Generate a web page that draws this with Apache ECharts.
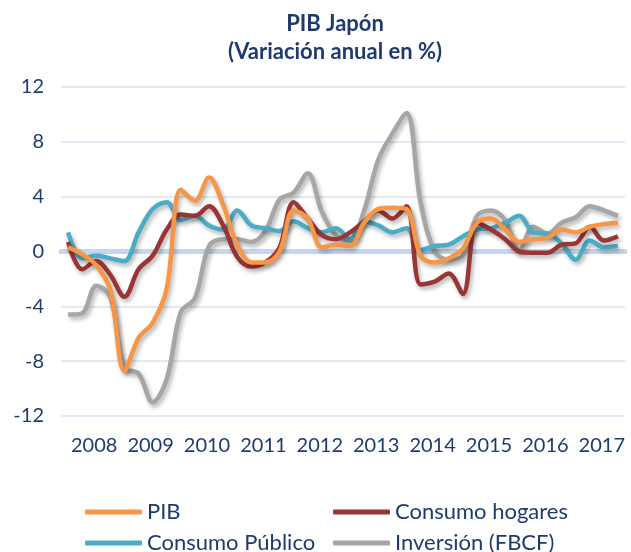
<!DOCTYPE html>
<html>
<head>
<meta charset="utf-8">
<title>PIB Japón</title>
<script src="https://cdn.jsdelivr.net/npm/echarts@6/dist/echarts.min.js"></script>
<style>
  html, body { margin: 0; padding: 0; background: #fff; }
  #chart { width: 631px; height: 552px; }
</style>
</head>
<body>
<div id="chart"></div>
<script>
// trimestres 2008T1 - 2017T4
var years = ["2008", "2009", "2010", "2011", "2012", "2013", "2014", "2015", "2016", "2017"];
var quarters = [];
years.forEach(function (y) {
  ["T1", "T2", "T3", "T4"].forEach(function (q) { quarters.push(y + q); });
});

var pib = [0.3, -0.2, -1.0, -2.8, -8.7, -6.3, -5.2, -2.7, 4.5, 3.7,
  5.4, 3.4, 0.5, -0.8, -0.8, 0.0, 3.0, 2.4, 0.3, 0.5,
  0.4, 2.1, 3.1, 3.2, 3.1, -0.3, -0.8, -0.5, 0.2, 2.1,
  2.4, 1.6, 0.7, 0.9, 1.0, 1.6, 1.4, 1.8, 2.0, 2.1];
var consumoHogares = [0.7, -1.3, -0.7, -1.7, -3.3, -1.3, -0.3, 1.6, 2.7, 2.6,
  3.3, 1.9, -0.4, -1.1, -0.8, 0.3, 3.6, 2.4, 1.2, 0.9,
  1.4, 2.2, 3.0, 2.4, 3.3, -2.4, -2.2, -1.6, -3.1, 2.1,
  1.6, 0.9, 0.0, -0.1, -0.1, 0.5, 0.6, 1.8, 0.8, 1.1];
var consumoPublico = [1.4, -0.5, -0.3, -0.5, -0.7, 1.4, 3.1, 3.6, 2.3, 2.6,
  1.9, 1.6, 3.0, 1.9, 1.7, 1.5, 2.2, 1.7, 1.4, 1.7,
  0.9, 2.2, 1.9, 1.4, 1.7, 0.1, 0.4, 0.5, 1.1, 1.6,
  1.7, 2.1, 2.6, 1.4, 1.3, 0.6, -0.6, 0.8, 0.3, 0.4];
var inversion = [-4.6, -4.5, -2.5, -3.3, -8.5, -8.9, -11.0, -9.3, -4.4, -3.4,
  0.4, 0.9, 0.9, 0.7, 1.5, 3.8, 4.3, 5.7, 2.9, 1.2,
  0.8, 3.0, 6.7, 8.6, 10.1, 3.6, 0.0, -0.6, -0.3, 2.6,
  3.0, 2.3, 0.1, 1.8, 1.3, 2.1, 2.5, 3.3, 3.0, 2.6];
var yTicks = [-12, -8, -4, 0, 4, 8, 12];

var navy = "#1f3b6e";
var fontName = "Lato";

function linea(name, data, color) {
  return {
    name: name,
    type: "line",
    data: data,
    smooth: 0.35,
    showSymbol: false,
    symbol: "none",
    lineStyle: {
      color: color,
      width: 4.5,
      shadowColor: "rgba(0,0,0,0.3)",
      shadowBlur: 4,
      shadowOffsetX: 2,
      shadowOffsetY: 3
    },
    itemStyle: { color: color }
  };
}

// una leyenda por elemento, para tener dos columnas alineadas
function leyenda(name, left, top) {
  return {
    left: left,
    top: top,
    padding: 0,
    itemWidth: 57,
    itemHeight: 5,
    icon: "roundRect",
    data: [name],
    textStyle: { color: navy, fontSize: 22, lineHeight: 20, fontFamily: fontName }
  };
}

var chart = echarts.init(document.getElementById("chart"));

var option = {
  animation: false,
  textStyle: { fontFamily: fontName },
  title: {
    text: "PIB Japón\n(Variación anual en %)",
    left: 330,
    textAlign: "center",
    top: 5,
    textStyle: {
      color: navy,
      fontSize: 22,
      fontWeight: "bold",
      fontFamily: fontName,
      lineHeight: 28
    }
  },
  legend: [
    leyenda("PIB", 85, 501),
    leyenda("Consumo Público", 85, 532),
    leyenda("Consumo hogares", 333, 501),
    leyenda("Inversión (FBCF)", 333, 532)
  ],
  grid: {
    left: 61,
    right: 6,
    top: 87,
    bottom: 136
  },
  xAxis: [
    {
      type: "category",
      data: quarters,
      boundaryGap: true,
      axisLine: {
        onZero: true,
        lineStyle: { color: "#c5d6ee", width: 5 }
      },
      axisTick: { show: false },
      axisLabel: { show: false }
    },
    {
      type: "category",
      data: years,
      position: "bottom",
      boundaryGap: true,
      axisLine: { show: false, onZero: false },
      axisTick: { show: false },
      axisLabel: {
        interval: 0,
        color: navy,
        fontSize: 20,
        margin: 20,
        padding: [0, 0, 0, 10],
        fontFamily: fontName
      }
    }
  ],
  yAxis: {
    type: "value",
    min: yTicks[0],
    max: yTicks[yTicks.length - 1],
    interval: 4,
    axisLine: { show: false },
    axisTick: { show: false },
    axisLabel: {
      color: navy,
      fontSize: 20,
      margin: 17,
      fontFamily: fontName
    },
    splitLine: { lineStyle: { color: "#d8e2f0", width: 1.5 } }
  },
  series: [
    linea("Inversión (FBCF)", inversion, "#a6a6a6"),
    linea("Consumo Público", consumoPublico, "#4bacc6"),
    linea("Consumo hogares", consumoHogares, "#993534"),
    linea("PIB", pib, "#f79646")
  ]
};

chart.setOption(option);
</script>
</body>
</html>
